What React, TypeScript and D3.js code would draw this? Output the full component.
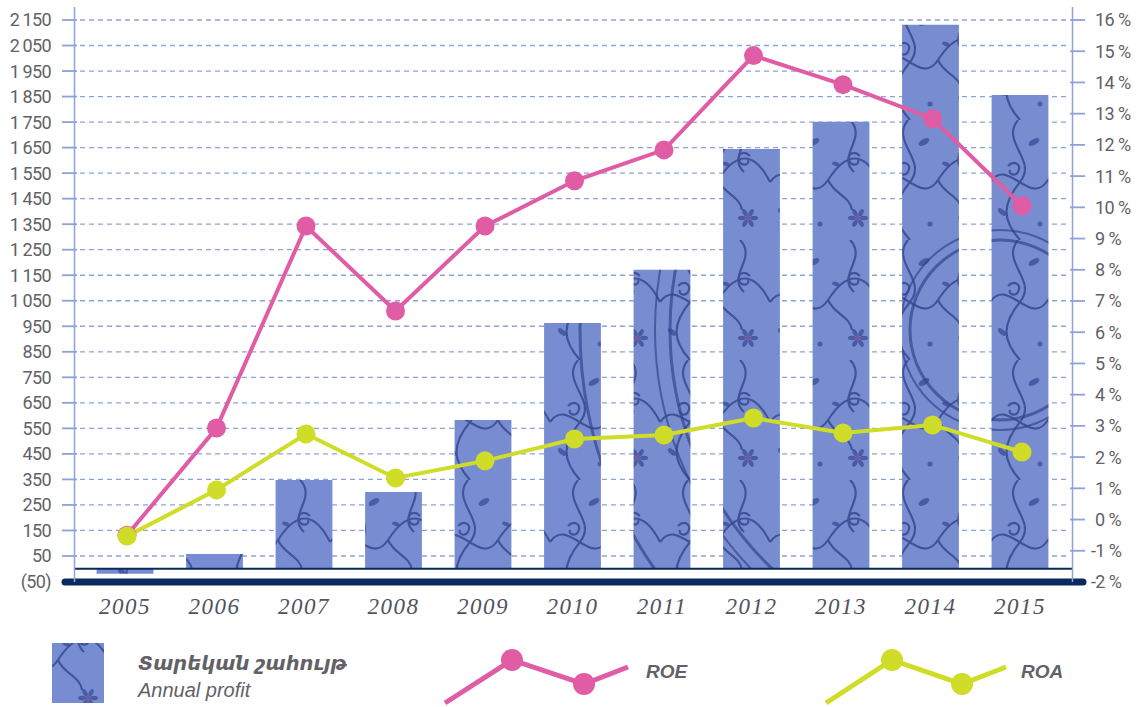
import React from "react";
import * as d3 from "d3";

const years = ["2005","2006","2007","2008","2009","2010","2011","2012","2013","2014","2015"];
const profit = [-20, 58, 348, 301, 583, 963, 1171, 1645, 1751, 2131, 1856];
const roe = [-0.5, 2.93, 9.4, 6.68, 9.4, 10.85, 11.84, 14.86, 13.93, 12.84, 10.05];
const roa = [-0.53, 0.95, 2.74, 1.33, 1.88, 2.58, 2.71, 3.25, 2.77, 3.03, 2.16];
const leftTicks = [-50, 50, 150, 250, 350, 450, 550, 650, 750, 850, 950, 1050, 1150, 1250, 1350, 1450, 1550, 1650, 1750, 1850, 1950, 2050, 2150];
const rightTicks = [-2, -1, 0, 1, 2, 3, 4, 5, 6, 7, 8, 9, 10, 11, 12, 13, 14, 15, 16];

const W = 1138, H = 707;
const PINK = "#e05ca5";
const YELLOW = "#cfdc28";
const NAVY = "#0b2a5c";
const AXIS = "#8ea2da";
const GRAY = "#626266";

const fmtLeft = (v: number) => v < 0 ? `(${Math.abs(v)})` : d3.format(",")(v).replace(/,/g, "\u2009");

export default function App() {
  const yL = d3.scaleLinear().domain([-50, 2150]).range([581.5, 20]);
  const yR = d3.scaleLinear().domain([-2, 16]).range([582, 20]);
  const x = d3.scalePoint<string>().domain(years).range([125, 1020]);
  const bw = x.step() * 0.635;

  const roeLine = d3.line<number>().x((_, i) => x(years[i])! + 2).y(d => yR(d));
  const roaLine = d3.line<number>().x((_, i) => x(years[i])! + 2).y(d => yR(d));

  const legLine = d3.line<[number, number]>();

  return (
    <svg width={W} height={H} style={{ position: "absolute", left: 0, top: 0, background: "#fff" }}>
      <defs>
        <pattern id="porcelain" patternUnits="userSpaceOnUse" width="110" height="120">
          <rect width="110" height="120" fill="#6f84cc" />
          <rect width="110" height="120" fill="#8fa3e0" opacity="0.3" />
          <g fill="none" stroke="#34458f" strokeWidth="2.2" opacity="0.8">
            <path d="M0,62 C18,36 40,88 58,60 S94,30 110,62" />
            <path d="M28,0 C10,22 48,40 30,62 S12,100 30,120" />
            <path d="M80,0 C98,18 66,36 84,52" />
            <path d="M58,60 C64,74 80,76 82,90" />
            <path d="M18,46 c6,-6 14,-2 10,6 c-3,5 -10,2 -8,-2" />
            <path d="M90,36 c-6,-6 -14,-2 -10,6 c3,5 10,2 8,-2" />
          </g>
          <g fill="#3b4c98" opacity="0.75">
            {[0, 60, 120, 180, 240, 300].map(a => (
              <ellipse key={a} cx={88 + 6 * Math.cos(a * Math.PI / 180)} cy={98 + 6 * Math.sin(a * Math.PI / 180)} rx="4" ry="2.2"
                transform={`rotate(${a} ${88 + 6 * Math.cos(a * Math.PI / 180)} ${98 + 6 * Math.sin(a * Math.PI / 180)})`} />
            ))}
            <circle cx="88" cy="98" r="2.5" fill="#6e4a8a" />
            <ellipse cx="44" cy="22" rx="6" ry="3" transform="rotate(-30 44 22)" />
            <ellipse cx="12" cy="92" rx="5" ry="2.5" transform="rotate(40 12 92)" />
            <ellipse cx="66" cy="44" rx="4" ry="2" transform="rotate(20 66 44)" />
            <circle cx="50" cy="104" r="2.5" />
          </g>
        </pattern>
        <clipPath id="barsClip">
          {profit.map((v, i) => (
            <rect key={i} x={x(years[i])! - bw / 2} width={bw} y={yL(Math.max(0, v))} height={Math.abs(yL(v) - yL(0))} />
          ))}
        </clipPath>
      </defs>

      {/* gridlines */}
      {leftTicks.filter(t => t > -50).map(t => (
        <line key={t} x1={80} x2={1067} y1={yL(t)} y2={yL(t)} stroke={AXIS} strokeWidth={1.3} strokeDasharray="5 4" />
      ))}

      {/* bars */}
      <g clipPath="url(#barsClip)">
        <rect x={0} y={0} width={W} height={H} fill="url(#porcelain)" />
        <g fill="none" stroke="#34458f" opacity="0.7">
          <circle cx={1000} cy={330} r={330} strokeWidth={3} />
          <circle cx={1000} cy={330} r={345} strokeWidth={2} />
          <circle cx={1000} cy={330} r={420} strokeWidth={3} />
          <circle cx={1000} cy={330} r={90} strokeWidth={3} />
          <circle cx={1000} cy={330} r={100} strokeWidth={2} />
        </g>
      </g>

      {/* baseline */}
      <line x1={75} x2={1072} y1={yL(0)} y2={yL(0)} stroke={NAVY} strokeWidth={2} />
      <line x1={65} x2={1083} y1={582} y2={582} stroke={NAVY} strokeWidth={7} strokeLinecap="round" />

      {/* left axis */}
      <line x1={74.5} x2={74.5} y1={7} y2={582} stroke={AXIS} strokeWidth={1.5} />
      {leftTicks.map(t => (
        <g key={t}>
          {t > -50 && <line x1={62} x2={77} y1={yL(t)} y2={yL(t)} stroke={AXIS} strokeWidth={1.8} />}
          <text x={51} y={yL(t)} dy="0.36em" textAnchor="end" fontFamily="Roboto, sans-serif" fontSize={18} fill={GRAY} letterSpacing="-0.6">
            {fmtLeft(t)}
          </text>
        </g>
      ))}

      {/* right axis */}
      <line x1={1072.5} x2={1072.5} y1={7} y2={582} stroke={AXIS} strokeWidth={1.5} />
      {rightTicks.map(t => (
        <g key={t}>
          {t > -2 && <line x1={1070} x2={1085} y1={yR(t)} y2={yR(t)} stroke={AXIS} strokeWidth={1.8} />}
          <text x={t < 0 ? 1091 : 1095} y={yR(t)} dy="0.36em" textAnchor="start" fontFamily="Roboto, sans-serif" fontSize={18} fill={GRAY} letterSpacing="-0.6">
            {`${t} %`}
          </text>
        </g>
      ))}

      {/* x labels */}
      {years.map(yr => (
        <text key={yr} x={x(yr)!} y={614} textAnchor="middle" fontFamily="'Liberation Serif', serif" fontStyle="italic" fontSize={23} fill="#50535f" letterSpacing="1.5">
          {yr}
        </text>
      ))}

      {/* lines */}
      <path d={roeLine(roe)!} fill="none" stroke={PINK} strokeWidth={4} />
      <path d={roaLine(roa)!} fill="none" stroke={YELLOW} strokeWidth={4} />
      {roe.map((v, i) => <circle key={"e" + i} cx={x(years[i])! + 2} cy={yR(v)} r={9.5} fill={PINK} />)}
      {roa.map((v, i) => <circle key={"a" + i} cx={x(years[i])! + 2} cy={yR(v)} r={9.5} fill={YELLOW} />)}

      {/* legend */}
      <rect x={52} y={643} width={52} height={60} fill="url(#porcelain)" />
      <text x={138} y={670} fontFamily="'Liberation Sans', 'DejaVu Sans', sans-serif" fontStyle="italic" fontWeight="bold" fontSize={19.5} fill={GRAY}>Տարեկան շահույթ</text>
      <text x={138} y={697} fontFamily="'Liberation Sans', sans-serif" fontStyle="italic" fontSize={20} fill={GRAY}>Annual profit</text>

      <path d={legLine([[445, 703], [512, 660], [584, 684], [628, 667]])!} fill="none" stroke={PINK} strokeWidth={5} />
      <circle cx={512} cy={660} r={11} fill={PINK} />
      <circle cx={584} cy={684} r={11} fill={PINK} />
      <text x={646} y={678} fontFamily="'Liberation Sans', sans-serif" fontStyle="italic" fontWeight="bold" fontSize={19} fill={GRAY}>ROE</text>

      <path d={legLine([[826, 703], [892, 660], [962, 684], [1006, 667]])!} fill="none" stroke={YELLOW} strokeWidth={5} />
      <circle cx={892} cy={660} r={11} fill={YELLOW} />
      <circle cx={962} cy={684} r={11} fill={YELLOW} />
      <text x={1021} y={678} fontFamily="'Liberation Sans', sans-serif" fontStyle="italic" fontWeight="bold" fontSize={19} fill={GRAY}>ROA</text>
    </svg>
  );
}
